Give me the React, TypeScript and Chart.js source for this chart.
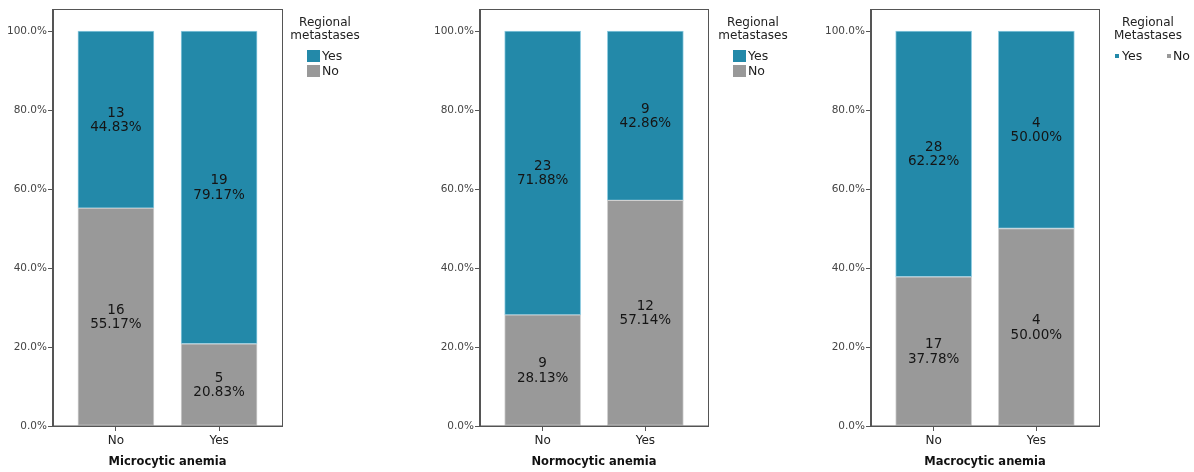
import React, { useEffect, useRef } from "react";
import { Chart, registerables } from "chart.js";

Chart.register(...registerables);

const categories = ["No", "Yes"];
const panelTitles = ["Microcytic anemia", "Normocytic anemia", "Macrocytic anemia"];
const legendTitles = [["Regional", "metastases"], ["Regional", "metastases"], ["Regional", "Metastases"]];
const seriesNames = ["Yes", "No"];
const yTickValues = [0, 20, 40, 60, 80, 100];

const microYesCounts = [13, 19];
const microNoCounts = [16, 5];
const microYesPct = [44.83, 79.17];
const microNoPct = [55.17, 20.83];

const normoYesCounts = [23, 9];
const normoNoCounts = [9, 12];
const normoYesPct = [71.88, 42.86];
const normoNoPct = [28.13, 57.14];

const macroYesCounts = [28, 4];
const macroNoCounts = [17, 4];
const macroYesPct = [62.22, 50.0];
const macroNoPct = [37.78, 50.0];

const TEAL = "#2389a9";
const TEAL_EDGE = "#8fcbe0";
const GRAY = "#999999";
const GRAY_EDGE = "#d0d0d0";
const FRAME = "#555555";
const FONT = "'DejaVu Sans', Verdana, sans-serif";

const panels = [
  { left: 0, width: 400, plotLeft: 53, plotRight: 282, legend: "vertical", legendX: 325, swatchX: 307,
    yes: microYesCounts, no: microNoCounts, yesPct: microYesPct, noPct: microNoPct },
  { left: 420, width: 380, plotLeft: 60, plotRight: 288, legend: "vertical", legendX: 333, swatchX: 313,
    yes: normoYesCounts, no: normoNoCounts, yesPct: normoYesPct, noPct: normoNoPct },
  { left: 815, width: 379, plotLeft: 56, plotRight: 284, legend: "horizontal", legendX: 333, swatchX: 300,
    yes: macroYesCounts, no: macroNoCounts, yesPct: macroYesPct, noPct: macroNoPct },
];

const H = 472;

function Panel({ idx }: { idx: number }) {
  const ref = useRef<HTMLCanvasElement>(null);
  const p = panels[idx];
  useEffect(() => {
    if (!ref.current) return;
    const counts = [p.no, p.yes];
    const pcts = [p.noPct, p.yesPct];
    const labelPlugin = {
      id: "segLabels",
      afterDatasetsDraw(chart: any) {
        const ctx = chart.ctx;
        ctx.save();
        ctx.font = `13.5px ${FONT}`;
        ctx.fillStyle = "#151515";
        ctx.textAlign = "center";
        ctx.textBaseline = "middle";
        chart.data.datasets.forEach((ds: any, di: number) => {
          const meta = chart.getDatasetMeta(di);
          meta.data.forEach((el: any, i: number) => {
            const cy = (el.y + el.base) / 2;
            ctx.fillText(String(counts[di][i]), el.x, cy - 6.5);
            ctx.fillText(pcts[di][i].toFixed(2) + "%", el.x, cy + 8);
          });
        });
        ctx.restore();
      },
      afterDraw(chart: any) {
        const ctx = chart.ctx;
        const a = chart.chartArea;
        ctx.save();
        ctx.strokeStyle = FRAME;
        ctx.lineWidth = 1;
        ctx.strokeRect(Math.round(a.left) - 0.5, Math.round(a.top) + 0.5, Math.round(a.right - a.left) + 1, Math.round(a.bottom - a.top) - 0.5);
        // legend
        ctx.fillStyle = "#222";
        ctx.font = `12px ${FONT}`;
        ctx.textAlign = "center";
        ctx.textBaseline = "middle";
        const lt = legendTitles[idx];
        ctx.fillText(lt[0], p.legendX, 23);
        ctx.fillText(lt[1], p.legendX, 36);
        ctx.font = `12.5px ${FONT}`;
        if (p.legend === "vertical") {
          ctx.textAlign = "left";
          ctx.fillStyle = TEAL;
          ctx.fillRect(p.swatchX, 50, 13, 12);
          ctx.fillStyle = GRAY;
          ctx.fillRect(p.swatchX, 65, 13, 12);
          ctx.fillStyle = "#222";
          ctx.fillText(seriesNames[0], p.swatchX + 15, 56.5);
          ctx.fillText(seriesNames[1], p.swatchX + 15, 71.5);
        } else {
          ctx.textAlign = "left";
          ctx.fillStyle = TEAL;
          ctx.fillRect(p.swatchX, 54, 4, 4);
          ctx.fillStyle = GRAY;
          ctx.fillRect(p.swatchX + 52, 54, 4, 4);
          ctx.fillStyle = "#1a1a1a";
          ctx.font = `12.5px ${FONT}`;
          ctx.fillText(seriesNames[0], p.swatchX + 7, 56.5);
          ctx.fillText(seriesNames[1], p.swatchX + 58, 56.5);
        }
        ctx.restore();
      },
    };
    const chart = new Chart(ref.current, {
      type: "bar",
      data: {
        datasets: [
          {
            label: seriesNames[1],
            data: p.noPct.map((v, i) => ({ x: i, y: v })),
            backgroundColor: GRAY,
            borderColor: GRAY_EDGE,
            borderWidth: 1,
            borderSkipped: false,
            stack: "s",
            barThickness: 76,
          },
          {
            label: seriesNames[0],
            data: p.yesPct.map((v, i) => ({ x: i, y: v })),
            backgroundColor: TEAL,
            borderColor: TEAL_EDGE,
            borderWidth: 1,
            borderSkipped: false,
            stack: "s",
            barThickness: 76,
          },
        ] as any,
      },
      options: {
        responsive: false,
        animation: false,
        layout: { padding: { top: 9, left: 0, right: p.width - p.plotRight, bottom: 0 } },
        plugins: { legend: { display: false }, tooltip: { enabled: false } },
        scales: {
          x: {
            type: "linear",
            min: -0.61,
            max: 1.61,
            offset: false,
            afterBuildTicks: (s: any) => {
              s.ticks = categories.map((_, i) => ({ value: i }));
            },
            afterFit: (s: any) => {
              s.height = H - 426;
            },
            grid: { offset: false, drawOnChartArea: false, drawTicks: true, tickLength: 5, color: FRAME },
            border: { display: true, color: FRAME },
            ticks: {
              padding: 3,
              color: "#222",
              font: { family: FONT, size: 12 },
              callback: (v: any) => categories[Number(v)] ?? "",
              maxRotation: 0,
            },
            title: {
              display: true,
              text: panelTitles[idx],
              color: "#111",
              font: { family: FONT, size: 11.5, weight: "bold" },
              padding: { top: 0, bottom: 3 },
            },
          },
          y: {
            type: "linear",
            min: 0,
            max: 105.57,
            stacked: true,
            afterBuildTicks: (s: any) => {
              s.ticks = yTickValues.map((v) => ({ value: v }));
            },
            afterFit: (s: any) => {
              s.width = p.plotLeft;
            },
            grid: { drawOnChartArea: false, drawTicks: true, tickLength: 5, color: FRAME },
            border: { display: true, color: FRAME },
            ticks: {
              padding: 1,
              color: "#444",
              font: { family: FONT, size: 10.5 },
              callback: (v: any) => Number(v).toFixed(1) + "%",
            },
          },
        },
      },
      plugins: [labelPlugin],
    });
    return () => chart.destroy();
  }, []);
  return (
    <canvas
      ref={ref}
      width={p.width}
      height={H}
      style={{ position: "absolute", left: p.left, top: 0, width: p.width, height: H }}
    />
  );
}

export default function App() {
  return (
    <div style={{ position: "absolute", left: 0, top: 0, width: 1194, height: H, background: "#fff" }}>
      {panels.map((_, i) => (
        <Panel key={i} idx={i} />
      ))}
    </div>
  );
}
